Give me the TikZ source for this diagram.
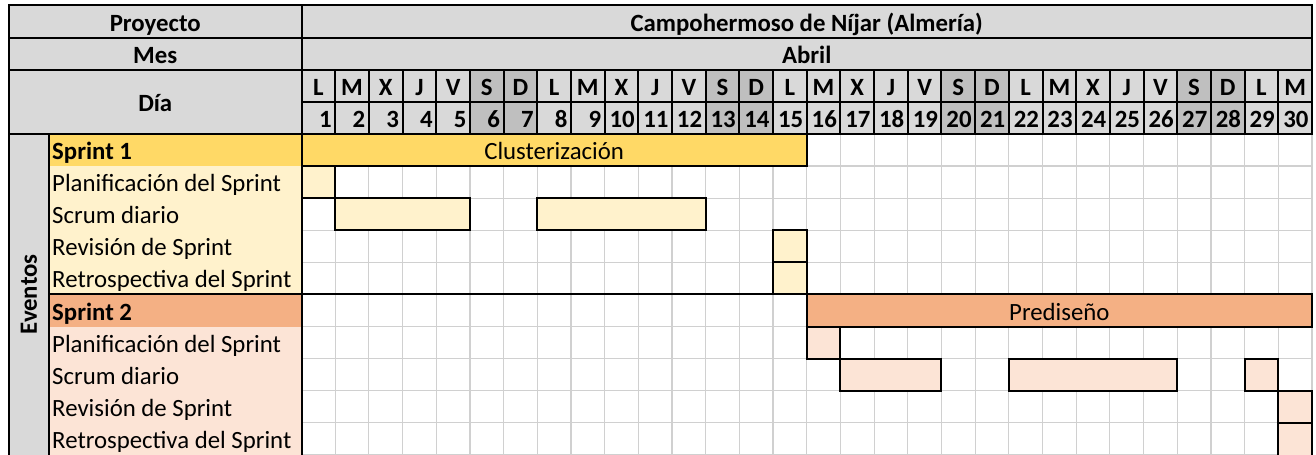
\documentclass[tikz,border=0pt]{standalone}
\usepackage{fontspec}
\setmainfont{Carlito}
\usetikzlibrary{positioning,calc}

\definecolor{cabecera}{HTML}{D9D9D9}
\definecolor{finde}{HTML}{BFBFBF}
\definecolor{rejilla}{HTML}{D0D0D0}
\definecolor{sprintuno}{HTML}{FFD966}
\definecolor{sprintunoclaro}{HTML}{FFF2CC}
\definecolor{sprintdos}{HTML}{F4B084}
\definecolor{sprintdosclaro}{HTML}{FCE4D6}

\newcommand{\xev}{-8.685}
\newcommand{\xlab}{-7.497}

\begin{document}
\begin{tikzpicture}[x=33.68pt,y=-32.1pt,font=\fontsize{24.8}{28}\selectfont,
		txt/.style={anchor=base,inner sep=0pt},
		negrita/.style={txt,font=\fontsize{24.8}{28}\selectfont\bfseries},
		borde/.style={draw=black,line width=2pt},
		fino/.style={draw=rejilla,line width=1.2pt}]
		\useasboundingbox (-8.952,-0.1713) rectangle (30.12,13.972);
		%
		\fill[cabecera] (\xev,0) rectangle (30,4);
		\foreach \d in {6,7,13,14,20,21,27,28}
			\fill[finde] ({\d-1},2) rectangle (\d,4);
		\fill[cabecera] (\xev,4) rectangle (\xlab,14.5);
		\fill[sprintuno] (\xlab,4) rectangle (0,5);
		\fill[sprintunoclaro] (\xlab,5) rectangle (0,9);
		\fill[sprintdos] (\xlab,9) rectangle (0,10);
		\fill[sprintdosclaro] (\xlab,10) rectangle (0,14.5);
		%
		\foreach \d in {1,...,30}
			\draw[fino] (\d,4) -- (\d,14.5);
		\foreach \r in {5,...,14}
			\draw[fino] (0,\r) -- (30,\r);
		%
		\foreach \a/\b/\r in {0/15/4}
			\draw[borde,fill=sprintuno] (\a,\r) rectangle (\b,{\r+1});
		\foreach \a/\b/\r in {0/1/5,1/5/6,7/12/6,14/15/7,14/15/8}
			\draw[borde,fill=sprintunoclaro] (\a,\r) rectangle (\b,{\r+1});
		\foreach \a/\b/\r in {15/30/9}
			\draw[borde,fill=sprintdos] (\a,\r) rectangle (\b,{\r+1});
		\foreach \a/\b/\r in {15/16/10,16/19/11,21/26/11,28/29/11,29/30/12}
			\draw[borde,fill=sprintdosclaro] (\a,\r) rectangle (\b,{\r+1});
		\draw[borde,fill=sprintdosclaro] (29,13) rectangle (30,14.5);
		%
		\draw[borde] (\xev,0) rectangle (30,4);
		\draw[borde] (\xev,1) -- (30,1) (\xev,2) -- (30,2) (0,3) -- (30,3) (0,0) -- (0,14.5);
		\foreach \d in {1,...,29}
			\draw[borde] (\d,2) -- (\d,4);
		\draw[borde] (\xev,4) rectangle (\xlab,14.5);
		\draw[borde] (\xlab,9) -- (30,9);
		%
		\node[negrita] (proy) at ({\xev/2},0.8) {Proyecto};
		\node[negrita] (lugar) at (15,0.8) {Campohermoso de Níjar (Almería)};
		\node[negrita] (mes) at ({\xev/2},1.8) {Mes};
		\node[negrita] (abril) at (15,1.8) {Abril};
		\node[negrita] (dia) at ({\xev/2},3.3) {Día};
		\foreach \l [count=\i] in {L,M,X,J,V,S,D,L,M,X,J,V,S,D,L,M,X,J,V,S,D,L,M,X,J,V,S,D,L,M}
			\node[negrita] (l\i) at ({\i-0.5},2.8) {\l};
		\foreach \i in {1,...,30}
			\node[negrita,anchor=base east] (n\i) at ({\i-0.1},3.8) {\i};
		\node[negrita,rotate=90,anchor=center] (ev) at ({(\xev+\xlab)/2},9) {Eventos};
		%
		\node[negrita,anchor=base west] (s1) at ({\xlab+0.09},4.8) {Sprint 1};
		\foreach \t [count=\i] in {Planificación del Sprint,Scrum diario,Revisión de Sprint,Retrospectiva del Sprint}
			\node[txt,anchor=base west] (a\i) at ({\xlab+0.09},{4.8+\i}) {\t};
		\node[negrita,anchor=base west] (s2) at ({\xlab+0.09},9.8) {Sprint 2};
		\foreach \t [count=\i] in {Planificación del Sprint,Scrum diario,Revisión de Sprint,Retrospectiva del Sprint}
			\node[txt,anchor=base west] (b\i) at ({\xlab+0.09},{9.8+\i}) {\t};
		\node[txt] (clus) at (7.5,4.8) {Clusterización};
		\node[txt] (pred) at (22.5,9.8) {Prediseño};
\end{tikzpicture}
\end{document}
